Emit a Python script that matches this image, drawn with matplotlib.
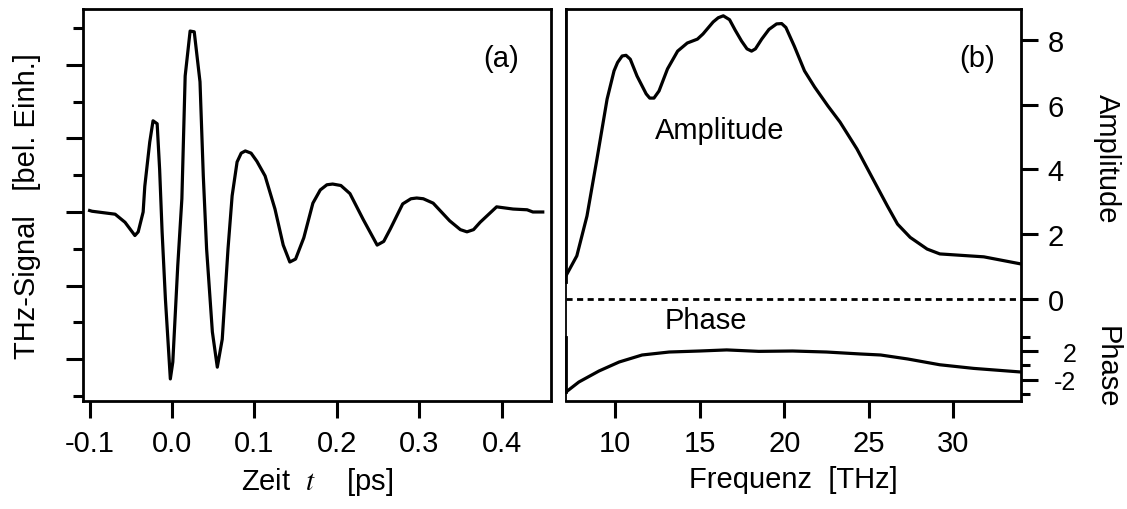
import matplotlib
matplotlib.use("Agg")
import matplotlib.pyplot as plt
from matplotlib.ticker import MultipleLocator, FixedLocator, NullFormatter, FuncFormatter

plt.rcParams['font.family'] = ['Liberation Sans', 'DejaVu Sans']
plt.rcParams['mathtext.fontset'] = 'stix'

# (a) THz time-domain signal
zeit = [-0.100, -0.097, -0.069, -0.057, -0.045, -0.041, -0.035, -0.033, -0.027,
        -0.023, -0.018, -0.015, -0.012, -0.008, -0.002, 0.001, 0.007, 0.012,
        0.016, 0.022, 0.027, 0.034, 0.038, 0.042, 0.049, 0.055, 0.061, 0.068,
        0.073, 0.079, 0.084, 0.089, 0.096, 0.103, 0.113, 0.125, 0.135, 0.143,
        0.150, 0.160, 0.171, 0.180, 0.188, 0.195, 0.205, 0.216, 0.232, 0.249,
        0.257, 0.265, 0.280, 0.290, 0.297, 0.305, 0.317, 0.337, 0.350, 0.358,
        0.366, 0.374, 0.394, 0.414, 0.431, 0.438, 0.450]
signal = [0.02, 0.01, -0.03, -0.14, -0.32, -0.27, 0.00, 0.35, 0.95,
          1.24, 1.20, 0.58, -0.27, -1.18, -2.27, -2.04, -0.73, 0.18,
          1.85, 2.46, 2.45, 1.77, 0.49, -0.50, -1.63, -2.11, -1.73, -0.50,
          0.22, 0.68, 0.80, 0.83, 0.80, 0.69, 0.49, 0.04, -0.45, -0.68,
          -0.64, -0.35, 0.12, 0.30, 0.37, 0.38, 0.36, 0.25, -0.10, -0.45,
          -0.40, -0.23, 0.11, 0.18, 0.19, 0.18, 0.12, -0.12, -0.24, -0.27,
          -0.24, -0.14, 0.07, 0.04, 0.03, 0.00, 0.00]

# (b) spectrum: amplitude and phase
freq_amp = [7.0, 7.74, 8.34, 8.93, 9.53, 9.94, 10.15, 10.42, 10.65, 10.9, 11.3,
            11.84, 12.05, 12.3, 12.6, 13.1, 13.7, 14.27, 14.87, 15.2, 15.8,
            16.1, 16.4, 16.77, 17.1, 17.48, 17.8, 18.07, 18.3, 18.67, 19.1,
            19.55, 19.85, 20.1, 20.6, 21.2, 21.8, 22.58, 23.3, 24.3, 25.25,
            26.1, 26.7, 27.45, 28.45, 29.2, 31.8, 34.0]
amplitude = [0.62, 1.33, 2.56, 4.32, 6.17, 7.04, 7.30, 7.50, 7.52, 7.40, 6.88,
             6.33, 6.20, 6.20, 6.42, 7.10, 7.65, 7.90, 8.02, 8.18, 8.55,
             8.68, 8.74, 8.62, 8.30, 7.96, 7.72, 7.65, 7.72, 8.02, 8.32,
             8.49, 8.50, 8.38, 7.80, 7.04, 6.54, 5.96, 5.46, 4.63, 3.70,
             2.87, 2.31, 1.90, 1.54, 1.39, 1.30, 1.08]
freq_ph = [7.1, 7.86, 9.05, 10.24, 11.6, 13.2, 15.0, 16.6, 18.5, 20.5, 22.5,
           24.5, 25.7, 27.3, 29.2, 31.2, 34.0]
phase = [-3.66, -2.28, -0.76, 0.48, 1.45, 1.86, 2.00, 2.15, 1.95, 2.00, 1.86,
         1.59, 1.45, 0.90, 0.10, -0.40, -0.90]

fs = 21
lw_sp = 2.0
W, H = 1127, 510
fig = plt.figure(figsize=(W / 100, H / 100), dpi=100)

# ---- panel (a)
ax = fig.add_axes([83 / W, 1 - 402 / H, 468 / W, 392 / H])
ax.plot(zeit, signal, color='black', lw=2.3)
ax.set_xlim(-0.108, 0.46)
ax.set_ylim(-2.57, 2.76)
ax.xaxis.set_major_locator(MultipleLocator(0.1))
ax.yaxis.set_major_locator(MultipleLocator(1))
ax.yaxis.set_minor_locator(MultipleLocator(0.5))
ax.yaxis.set_major_formatter(NullFormatter())
ax.xaxis.set_major_formatter(FuncFormatter(lambda v, p: f"{v:.1f}".replace("-0.0", "0.0")))
ax.tick_params(axis='both', which='major', direction='out', length=12, width=2.2,
               labelsize=fs, pad=8)
ax.tick_params(axis='y', which='minor', direction='out', length=7, width=2.2)
ax.tick_params(axis='x', which='minor', length=0)
for s in ax.spines.values():
    s.set_linewidth(lw_sp)
ax.set_xlabel("Zeit  $t$    [ps]", fontsize=fs, labelpad=6)
ax.set_ylabel("THz-Signal   [bel. Einh.]", fontsize=fs, labelpad=10)
ax.text(0.893, 0.875, "(a)", transform=ax.transAxes, fontsize=fs,
        ha='center', va='center')

# ---- panel (b)
pos_b = [566 / W, 1 - 402 / H, 455 / W, 392 / H]
axb = fig.add_axes(pos_b)
axp = fig.add_axes(pos_b, sharex=axb)
axp.patch.set_visible(False)

axb.plot(freq_amp, amplitude, color='black', lw=2.3)
axb.axhline(0, color='black', lw=2.0, ls=(0, (2.2, 1.6)))
axb.set_xlim(7.1, 34.0)
axb.set_ylim(-3.15, 8.95)
axb.xaxis.set_major_locator(MultipleLocator(5))
axb.yaxis.set_major_locator(FixedLocator([0, 2, 4, 6, 8]))
axb.yaxis.tick_right()
axb.tick_params(axis='both', which='major', direction='out', length=12, width=2.2,
                labelsize=fs, pad=8)
axb.tick_params(axis='y', pad=7)
for s in axb.spines.values():
    s.set_linewidth(lw_sp)
axb.spines['left'].set_bounds(amplitude[0] - 0.1, 8.95)
axb.set_xlabel("Frequenz  [THz]", fontsize=fs, labelpad=6)
axb.text(16.2, 5.2, "Amplitude", fontsize=fs, ha='center', va='center')
axb.text(15.35, -0.65, "Phase", fontsize=fs, ha='center', va='center')
axb.text(0.903, 0.875, "(b)", transform=axb.transAxes, fontsize=fs,
         ha='center', va='center')

axp.plot(freq_ph, phase, color='black', lw=2.3)
axp.set_ylim(-4.9, 49.2)
axp.yaxis.tick_right()
axp.yaxis.set_major_locator(FixedLocator([-2, 2]))
axp.yaxis.set_minor_locator(FixedLocator([-4, 0, 4]))
axp.set_yticklabels(["-2", "2"])
axp.tick_params(axis='y', which='major', direction='out', length=12, width=2.2,
                labelsize=18, pad=28)
axp.tick_params(axis='y', which='minor', direction='out', length=6.5, width=2.2)
axp.tick_params(axis='x', which='both', bottom=False, labelbottom=False)
for lbl in axp.get_yticklabels():
    lbl.set_horizontalalignment('right')
for k in ['top', 'bottom', 'right']:
    axp.spines[k].set_visible(False)
axp.spines['left'].set_linewidth(lw_sp)
axp.spines['left'].set_bounds(phase[0], 3.9)
# thin connecting line on the left edge between both thick spine parts
axp.axvline(axb.get_xlim()[0], color='black', lw=1.3, clip_on=False)

fig.text(1107 / W, 1 - 159 / H, "Amplitude", rotation=-90, fontsize=fs,
         ha='center', va='center')
fig.text(1107 / W, 1 - 367 / H, "Phase", rotation=-90, fontsize=fs,
         ha='center', va='center')

fig.savefig("out.png", dpi=100)
